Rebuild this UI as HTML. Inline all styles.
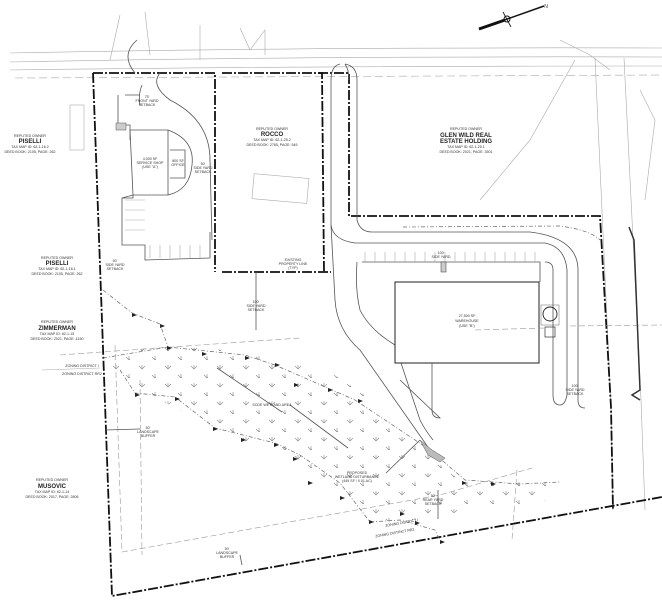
<!DOCTYPE html>
<html><head><meta charset="utf-8"><style>
html,body{margin:0;padding:0;background:#fff}
svg{display:block}
text{font-family:"Liberation Sans",sans-serif;fill:#333;text-anchor:middle}
.s{font-size:3.6px}
.n{font-size:6px;font-weight:bold;fill:#222}
.l{fill:none;stroke:#aaa;stroke-width:.6}
.m{fill:none;stroke:#555;stroke-width:.8}
.b{fill:none;stroke:#111;stroke-width:1.8;stroke-dasharray:10 2 2 2}
.d{fill:none;stroke:#999;stroke-width:.6;stroke-dasharray:6 3}
.a{fill:none;stroke:#666;stroke-width:.7;stroke-dasharray:4 2 1 2}
</style></head><body>
<svg width="662" height="600" viewBox="0 0 662 600" xmlns="http://www.w3.org/2000/svg">
<defs>
<pattern id="v" width="26" height="18" patternUnits="userSpaceOnUse">
<path d="M9 6 l3 3 l3 -3 M12 9 v-4 M22 15 l3 3 l3 -3 M25 18 v-4" stroke="#888" stroke-width=".6" fill="none"/>
</pattern>
</defs>
<!-- road -->
<path class="l" d="M10 53 Q300 47 662 48"/>
<path class="l" d="M10 62 Q300 56 662 57"/>
<path class="l" d="M10 70 Q300 66 662 66"/>
<path class="l" d="M15 78 L662 75" stroke-dasharray="8 4"/>
<!-- north arrow -->
<path d="M479 29 L544 6" stroke="#111" stroke-width="1.5"/>
<path d="M479 29 L505 20" stroke="#111" stroke-width="3"/>
<circle cx="507" cy="19" r="3" fill="none" stroke="#111"/>
<path d="M503 12 L511 27" stroke="#111" stroke-width=".8"/>
<text x="546" y="8" class="s" style="font-size:5px">N</text>
<!-- misc light lines top -->
<path class="l" d="M120 15 L110 60 M145 12 L150 55 M200 25 L200 60 M240 28 L250 50 L265 30 L265 55 M560 40 L590 55 L610 70"/>
<path class="l" d="M595 58 L611 407 L613 510 M624 58 L641 400 L645 510"/>
<path class="l" d="M640 90 L655 120 L645 200 M575 60 L530 140 L480 200"/>
<!-- left parcel -->
<path class="b" d="M93 73 L215 73 L215 272"/>
<path class="b" d="M93 73 L112 596 L662 497"/>
<!-- rocco parcel -->
<path class="b" d="M222 272 L331 272"/>
<path class="b" d="M222 73 L322 73 L324 272"/>
<path class="b" d="M318 73 L349 73 L349 216 L600 216 L611 407 L613 510"/>
<!-- left parcel site -->
<path class="m" d="M118 95 L118 125 L130 125 L130 140"/>
<rect x="116" y="123" width="10" height="7" fill="#ccc" stroke="#555" stroke-width=".5"/>
<path class="m" d="M130 130 L168 130 L168 195 L133 195 Z"/>
<path class="m" d="M168 130 Q195 140 192 165 Q190 190 168 195"/>
<path class="m" d="M170 150 L185 150 L185 178 L170 178"/>
<path class="m" d="M122 198 L133 195 L133 198 L122 198 L122 245 L145 245 L145 260 L210 258 L210 232"/>
<path class="m" d="M137 40 Q120 55 135 73 M160 73 Q150 85 170 100 Q210 120 210 160 L212 240"/>
<path class="m" d="M142 85 Q138 95 140 105 M125 95 L140 95"/>
<path class="l" d="M125 200 L145 200 M125 210 L145 210 M125 220 L145 220 M125 230 L145 230 M150 245 L150 258 M160 245 L160 258 M170 245 L170 258 M180 245 L180 258 M190 245 L190 258 M200 245 L200 258"/>
<rect x="70" y="105" width="14" height="45" fill="none" stroke="#aaa" stroke-width=".6"/>
<rect x="253" y="176" width="55" height="25" fill="none" stroke="#aaa" stroke-width=".6" transform="rotate(5 280 188)"/>
<text x="150" y="160" class="s">4,000 SF</text><text x="150" y="164" class="s">SERVICE SHOP</text><text x="150" y="168" class="s">(USE "A")</text>
<text x="178" y="162" class="s">800 SF</text><text x="178" y="166" class="s">OFFICE</text>
<text x="147" y="98" class="s">75'</text><text x="147" y="102" class="s">FRONT YARD</text><text x="147" y="106" class="s">SETBACK</text>
<text x="203" y="165" class="s">50'</text><text x="203" y="169" class="s">SIDE YARD</text><text x="203" y="173" class="s">SETBACK</text>
<text x="115" y="262" class="s">50'</text><text x="115" y="266" class="s">SIDE YARD</text><text x="115" y="270" class="s">SETBACK</text>
<text x="256" y="303" class="s">100'</text><text x="256" y="307" class="s">SIDE YARD</text><text x="256" y="311" class="s">SETBACK</text>
<path class="m" d="M256 272 L256 330"/>
<text x="293" y="261" class="s">EXISTING</text><text x="293" y="265" class="s">PROPERTY LINE</text><text x="293" y="269" class="s">(TYP)</text>
<!-- owners -->
<text x="30" y="137" class="s">REPUTED OWNER</text><text x="30" y="143" class="n">PISELLI</text><text x="30" y="148" class="s">TAX MAP ID: 62-1-16.2</text><text x="30" y="153" class="s">DEED BOOK: 2105, PAGE: 262</text>
<text x="57" y="259" class="s">REPUTED OWNER</text><text x="57" y="265" class="n">PISELLI</text><text x="57" y="270" class="s">TAX MAP ID: 62-1-16.1</text><text x="57" y="275" class="s">DEED BOOK: 2105, PAGE: 262</text>
<text x="57" y="323" class="s">REPUTED OWNER</text><text x="57" y="330" class="n">ZIMMERMAN</text><text x="57" y="335" class="s">TAX MAP ID: 62-1-15</text><text x="57" y="340" class="s">DEED BOOK: 2021, PAGE: 4150</text>
<text x="52" y="481" class="s">REPUTED OWNER</text><text x="52" y="488" class="n">MUSOVIC</text><text x="52" y="493" class="s">TAX MAP ID: 62-1-14</text><text x="52" y="498" class="s">DEED BOOK: 2017, PAGE: 2806</text>
<text x="272" y="130" class="s">REPUTED OWNER</text><text x="272" y="136" class="n">ROCCO</text><text x="272" y="141" class="s">TAX MAP ID: 62-1-25.2</text><text x="272" y="146" class="s">DEED BOOK: 2765, PAGE: 549</text>
<text x="466" y="130" class="s">REPUTED OWNER</text><text x="466" y="137" class="n">GLEN WILD REAL</text><text x="466" y="143" class="n">ESTATE HOLDING</text><text x="466" y="148" class="s">TAX MAP ID: 62-1-25.1</text><text x="466" y="153" class="s">DEED BOOK: 2021, PAGE: 3501</text>
<!-- access road -->
<path class="m" d="M340 64 Q331 66 331 80 L331 225 Q333 240 355 243 L545 243 Q565 247 567 270 L567 395 Q565 405 560 405 Q553 405 553 395 L553 270 Q553 262 545 262"/>
<path class="m" d="M345 64 Q349 70 349 80"/>
<path class="m" d="M345 64 Q357 66 357 80 L357 220 Q360 232 372 232 L530 232 Q578 238 578 270 L578 400 Q578 408 585 408"/>
<path class="m" d="M331 225 L335 300 Q337 330 360 350 L430 450"/>
<path class="m" d="M357 262 Q355 290 360 310 Q370 330 395 345 L420 420 Q425 430 433 440"/>
<path class="m" d="M362 262 L540 262 L540 282"/>
<path class="l" d="M365 262 l0 -10 M375 262 l0 -10 M385 262 l0 -10 M395 262 l0 -10 M405 262 l0 -10 M415 262 l0 -10 M425 262 l0 -10 M435 262 l0 -10 M445 262 l0 -10 M455 262 l0 -10 M465 262 l0 -10 M475 262 l0 -10 M485 262 l0 -10 M495 262 l0 -10 M505 262 l0 -10 M515 262 l0 -10 M525 262 l0 -10 M535 262 l0 -10"/>
<path class="a" d="M403 227 L560 226 Q590 230 600 240"/>
<rect x="441" y="262" width="5" height="10" fill="#ccc" stroke="#333" stroke-width=".5"/>
<!-- warehouse -->
<rect x="395" y="282" width="144" height="81" fill="#fff" stroke="#222" stroke-width="1"/>
<text x="467" y="317" class="s">27,500 SF</text><text x="467" y="322" class="s">WAREHOUSE</text><text x="467" y="327" class="s">(USE "B")</text>
<path class="m" d="M432 363 L432 410 Q432 418 440 418 L400 380"/>
<rect x="541" y="305" width="18" height="20" fill="none" stroke="#666" stroke-width=".5"/>
<circle cx="550" cy="314" r="7" fill="none" stroke="#222" stroke-width=".9"/>
<rect x="545" y="327" width="10" height="10" fill="none" stroke="#333" stroke-width=".7"/>
<path class="d" d="M475 330 L545 328 M570 326 L662 325"/>
<path class="d" d="M60 355 L200 345 L300 338"/>
<text x="441" y="254" class="s">100'</text><text x="441" y="258" class="s">SIDE YARD</text>
<text x="575" y="387" class="s">100'</text><text x="575" y="391" class="s">SIDE YARD</text><text x="575" y="395" class="s">SETBACK</text>
<path d="M629 227 L634 240 L640 390 L632 395 L640 400" fill="none" stroke="#333" stroke-width="1.5"/>
<!-- wetlands -->
<path d="M103 358 L160 345 L250 352 L330 372 L365 395 L410 440 L462 482 L560 482 L550 500 L470 510 L400 522 L370 520 L330 485 L280 450 L240 440 L160 400 L115 372 Z" fill="url(#v)" stroke="none"/>
<path class="a" d="M103 358 L168 347 L245 355 L275 365 L355 400 L430 450 L465 480 L520 484 L560 482"/>
<path class="a" d="M120 370 L135 393 L175 397 L215 428 L275 443 L300 455 L340 483 L370 522 L400 520 L435 530 L440 540"/>
<path class="d" d="M115 345 L122 552 L440 495 L532 468"/>
<path class="d" d="M140 380 L142 555"/>
<path class="d" d="M517 470 L512 540"/>
<path class="m" d="M217 368 L282 412 M290 405 L348 448 M386 473 L420 440"/>
<path d="M420 440 L432 450 L445 458 L440 462 L428 455 Z" fill="#bbb" stroke="#555" stroke-width=".5"/>
<text x="272" y="406" class="s">SCDE WETLAND AREA</text>
<text x="357" y="474" class="s">PROPOSED</text><text x="357" y="478" class="s">WETLAND DISTURBANCE</text><text x="357" y="482" class="s">(449 SF / 0.01 AC)</text>
<text x="148" y="429" class="s">50'</text><text x="148" y="433" class="s">LANDSCAPE</text><text x="148" y="437" class="s">BUFFER</text>
<path class="m" d="M105 430 L140 429"/>
<text x="227" y="550" class="s">50'</text><text x="227" y="554" class="s">LANDSCAPE</text><text x="227" y="558" class="s">BUFFER</text>
<path class="m" d="M240 555 L242 565"/>
<text x="433" y="497" class="s">50'</text><text x="433" y="501" class="s">REAR YARD</text><text x="433" y="505" class="s">SETBACK</text>
<path class="m" d="M438 490 L438 519"/>
<text x="82" y="367" class="s">ZONING DISTRICT I</text><text x="82" y="375" class="s">ZONING DISTRICT RR2</text>
<path class="l" d="M42 370 L100 368"/>
<text x="402" y="524" class="s" transform="rotate(-10 402 524)">ZONING DISTRICT I</text>
<text x="395" y="534" class="s" transform="rotate(-10 395 534)">ZONING DISTRICT RR2</text>
<g fill="#222">
<path d="M167 346 l5 2 l-5 2Z M202 352 l5 2 l-5 2Z M245 356 l5 2 l-5 2Z M275 363 l5 2 l-5 2Z M294 383 l5 2 l-5 2Z M328 388 l5 2 l-5 2Z M358 399 l5 2 l-5 2Z M135 393 l5 2 l-5 2Z M175 397 l5 2 l-5 2Z M213 427 l5 2 l-5 2Z M241 438 l5 2 l-5 2Z M274 443 l5 2 l-5 2Z M293 457 l5 2 l-5 2Z M308 481 l5 2 l-5 2Z M340 496 l5 2 l-5 2Z M369 520 l5 2 l-5 2Z M400 512 l5 2 l-5 2Z M415 521 l5 2 l-5 2Z M462 481 l5 2 l-5 2Z M491 482 l5 2 l-5 2Z M440 540 l5 2 l-5 2Z M160 324 l5 2 l-5 2Z M132 313 l5 2 l-5 2Z"/>
</g>
<path class="a" d="M103 290 L132 313 L160 324 L168 347"/>
</svg>
</body></html>
